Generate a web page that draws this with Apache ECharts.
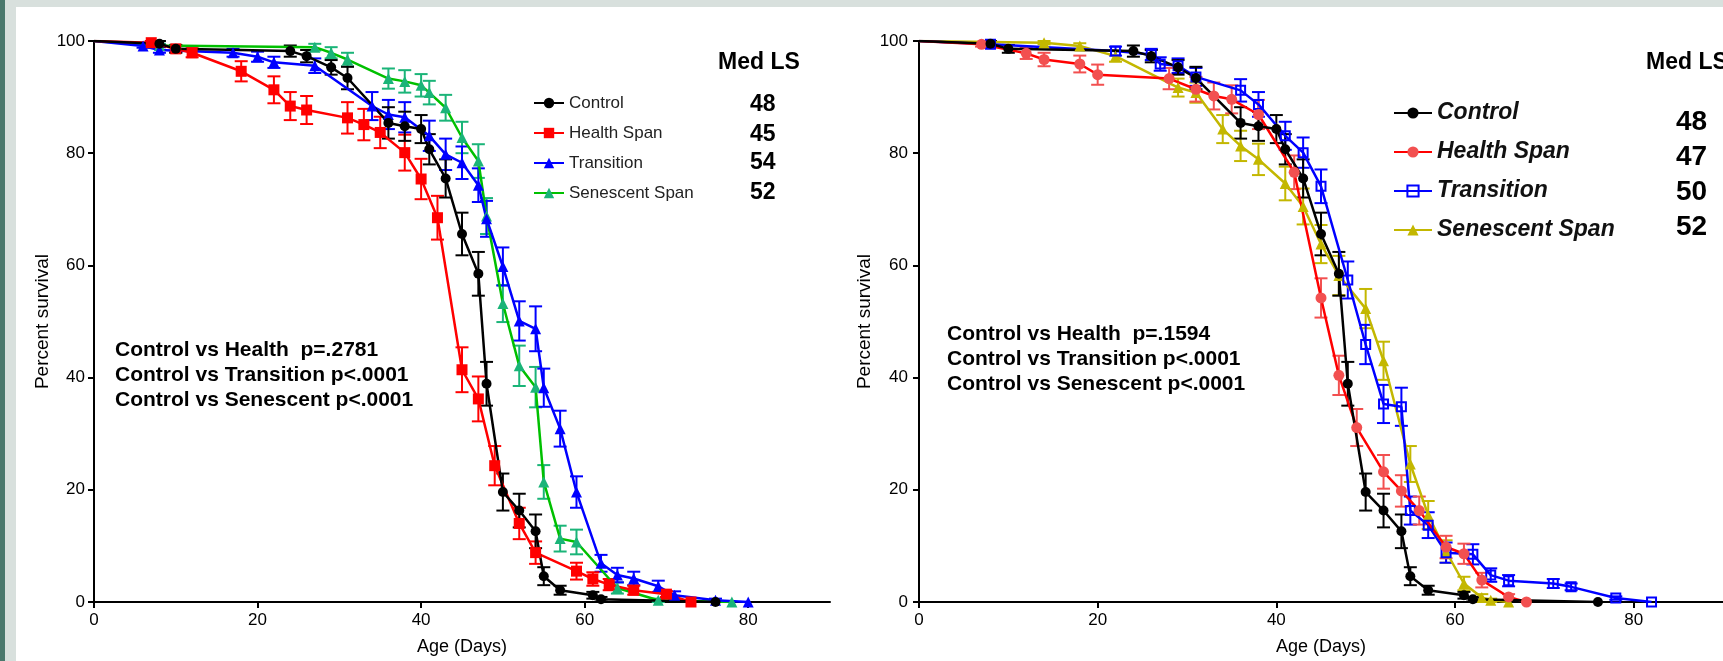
<!DOCTYPE html>
<html><head><meta charset="utf-8">
<script src="https://cdn.jsdelivr.net/npm/echarts@6/dist/echarts.min.js"></script>
<style>
html,body{margin:0;padding:0;width:1723px;height:661px;overflow:hidden;background:#fff;}
#tealbar{position:absolute;left:0;top:0;width:5px;height:661px;background:#4a786c;}
#greyside{position:absolute;left:5px;top:0;width:11px;height:661px;background:#d8e0dd;}
#greytop{position:absolute;left:5px;top:0;width:1718px;height:7px;background:#d8e0dd;}
#chart{position:absolute;left:0;top:0;width:1723px;height:661px;}
</style></head><body>
<div id="tealbar"></div><div id="greyside"></div><div id="greytop"></div>
<div id="chart"></div>
<script>
// ---------- DATA ----------
const xTicks = [0, 20, 40, 60, 80];
const seriesNames = ['Control', 'Health Span', 'Transition', 'Senescent Span'];
const medLSLeft = ['48', '45', '54', '52'];
const medLSRight = ['48', '47', '50', '52'];
const statsLeft = ['Control vs Health  p=.2781', 'Control vs Transition p<.0001', 'Control vs Senescent p<.0001'];
const statsRight = ['Control vs Health  p=.1594', 'Control vs Transition p<.0001', 'Control vs Senescent p<.0001'];

// Control (same cohort in both panels)
const controlDays = [0, 8, 10, 24, 26, 29, 31, 36, 38, 40, 41, 43, 45, 47, 48, 50, 52, 54, 55, 57, 61, 62, 76];
const controlPct  = [100, 99.5, 98.6, 98.2, 97.3, 95.3, 93.4, 85.4, 84.8, 84.3, 80.7, 75.5, 65.6, 58.5, 38.9, 19.6, 16.3, 12.6, 4.6, 2.1, 1.2, 0.5, 0];
const controlErr  = [0, 0.5, 0.7, 1.0, 1.1, 1.3, 2.0, 2.8, 2.6, 2.5, 2.7, 3.4, 3.8, 3.9, 3.9, 3.3, 3.0, 3.0, 1.6, 0.8, 0.6, 0.4, 0];

// Left panel
const healthA_Days = [0, 7, 10, 12, 18, 22, 24, 26, 31, 33, 35, 38, 40, 42, 45, 47, 49, 52, 54, 59, 61, 63, 66, 70, 73];
const healthA_Pct  = [100, 99.7, 98.6, 97.9, 94.6, 91.3, 88.4, 87.7, 86.3, 85.1, 83.7, 80.1, 75.4, 68.5, 41.4, 36.2, 24.3, 14.0, 8.8, 5.5, 4.1, 3.1, 2.1, 1.4, 0];
const healthA_Err  = [0, 0.3, 0.6, 0.8, 1.8, 2.4, 2.5, 2.5, 2.8, 2.8, 2.8, 3.2, 3.6, 3.9, 4.0, 4.0, 3.5, 2.8, 2.0, 1.5, 1.2, 1.0, 0.8, 0.5, 0];

const transA_Days = [0, 6, 8, 17, 20, 22, 27, 34, 36, 38, 41, 43, 45, 47, 48, 50, 52, 54, 55, 57, 59, 62, 64, 66, 69, 71, 76, 80];
const transA_Pct  = [100, 99.1, 98.4, 97.9, 97.2, 96.2, 95.6, 88.4, 86.9, 86.4, 83.1, 79.8, 78.3, 74.3, 68.3, 59.8, 50.1, 48.7, 38.2, 30.9, 19.6, 6.9, 4.8, 4.2, 2.8, 1.2, 0.3, 0];
const transA_Err  = [0, 0.3, 0.5, 0.7, 0.9, 1.0, 1.3, 2.5, 2.6, 2.7, 2.7, 2.8, 2.9, 3.0, 3.2, 3.4, 3.5, 4.0, 3.4, 3.2, 2.8, 1.5, 1.3, 1.2, 1.0, 0.7, 0.3, 0];

const senA_Days = [0, 8, 27, 29, 31, 36, 38, 40, 41, 43, 45, 47, 48, 50, 52, 54, 55, 57, 59, 64, 69, 78];
const senA_Pct  = [100, 99.2, 98.9, 97.9, 96.7, 93.3, 92.8, 92.1, 90.8, 88.1, 82.8, 78.6, 68.8, 53.2, 42.1, 38.3, 21.4, 11.3, 10.7, 2.5, 0.3, 0];
const senA_Err  = [0, 0.3, 0.6, 1.0, 1.2, 1.8, 2.0, 2.0, 2.1, 2.3, 2.8, 3.0, 3.2, 3.3, 3.6, 3.6, 3.0, 2.3, 2.2, 1.0, 0.3, 0];

// Right panel
const healthB_Days = [0, 7, 12, 14, 18, 20, 28, 31, 33, 35, 38, 42, 45, 47, 49, 52, 54, 56, 59, 61, 63, 66, 68];
const healthB_Pct  = [100, 99.4, 97.8, 96.7, 95.9, 94.0, 93.3, 91.4, 90.2, 89.6, 86.9, 76.6, 54.2, 40.4, 31.1, 23.2, 19.8, 16.3, 9.8, 8.6, 3.9, 0.9, 0];
const healthB_Err  = [0, 0.4, 1.0, 1.2, 1.5, 1.8, 1.9, 2.2, 2.4, 2.5, 2.6, 3.0, 3.5, 3.5, 3.3, 3.0, 2.8, 2.5, 2.0, 1.8, 1.3, 0.5, 0];

const transB_Days = [0, 8, 22, 26, 27, 29, 31, 36, 38, 41, 43, 45, 48, 50, 52, 54, 55, 57, 59, 62, 64, 66, 71, 73, 78, 82];
const transB_Pct  = [100, 99.4, 98.2, 97.6, 95.9, 95.6, 93.6, 91.2, 88.7, 83.1, 80.1, 74.1, 57.4, 45.9, 35.3, 34.8, 16.3, 13.7, 8.8, 8.5, 4.8, 3.8, 3.3, 2.7, 0.7, 0];
const transB_Err  = [0, 0.4, 0.8, 1.0, 1.2, 1.3, 1.6, 2.0, 2.2, 2.5, 2.7, 3.0, 3.3, 3.5, 3.4, 3.4, 2.5, 2.3, 1.8, 1.8, 1.2, 1.0, 0.8, 0.6, 0.3, 0];

const senB_Days = [0, 14, 18, 22, 29, 31, 34, 36, 38, 41, 43, 45, 47, 50, 52, 55, 57, 59, 61, 63, 64, 66];
const senB_Pct  = [100, 99.7, 99.1, 97.3, 91.7, 90.8, 84.3, 81.3, 78.9, 74.6, 70.5, 63.8, 58.2, 52.3, 43.0, 24.6, 15.5, 9.0, 3.3, 0.8, 0.3, 0];
const senB_Err  = [0, 0.3, 0.5, 1.0, 1.6, 1.8, 2.5, 2.7, 2.8, 3.0, 3.2, 3.4, 3.5, 3.5, 3.4, 3.2, 2.5, 2.0, 1.2, 0.6, 0.3, 0];

// ---------- CHART ----------
const FONT = '"Liberation Sans", Arial, sans-serif';
const chart = echarts.init(document.getElementById('chart'), null, {renderer: 'canvas'});

function lineData(days, pct) {
  return days.map((d, i) => d === 0 ? {value: [d, pct[i]], symbol: 'none'} : [d, pct[i]]);
}
function errSeries(gi, days, pct, err, color) {
  const data = days.map((d, i) => [d, pct[i], err[i]]).filter(r => r[2] > 0);
  return {
    type: 'custom', xAxisIndex: gi, yAxisIndex: gi, silent: true, animation: false,
    data: data, encode: {x: 0, y: 1},
    renderItem: function (params, api) {
      const x = api.value(0), y = api.value(1), e = api.value(2);
      const t = api.coord([x, y + e]), b = api.coord([x, y - e]);
      const c = 6.5, st = {stroke: color, lineWidth: 2};
      return {type: 'group', children: [
        {type: 'line', shape: {x1: t[0], y1: t[1], x2: b[0], y2: b[1]}, style: st},
        {type: 'line', shape: {x1: t[0] - c, y1: t[1], x2: t[0] + c, y2: t[1]}, style: st},
        {type: 'line', shape: {x1: b[0] - c, y1: b[1], x2: b[0] + c, y2: b[1]}, style: st}
      ]};
    }
  };
}
function lineSeries(name, gi, days, pct, lineColor, itemStyle, symbol, size) {
  return {
    type: 'line', name: name, xAxisIndex: gi, yAxisIndex: gi,
    data: lineData(days, pct), symbol: symbol, symbolSize: size, animation: false,
    lineStyle: {color: lineColor, width: 2.5}, itemStyle: itemStyle
  };
}

function xAxis(gi, fs, nfs) {
  return {
    type: 'value', gridIndex: gi, min: 0, max: 90, interval: 20,
    axisLine: {show: true, onZero: false, lineStyle: {color: '#000', width: 2}},
    axisTick: {show: true, length: 6, customValues: xTicks, lineStyle: {color: '#000', width: 2}},
    axisLabel: {customValues: xTicks, margin: 10, fontSize: fs, color: '#000', fontFamily: FONT},
    splitLine: {show: false},
    name: 'Age (Days)', nameLocation: 'middle', nameGap: 36,
    nameTextStyle: {fontSize: nfs, color: '#000', fontFamily: FONT}
  };
}
function yAxis(gi, fs, nfs, gap, margin) {
  return {
    type: 'value', gridIndex: gi, min: 0, max: 100, interval: 20,
    axisLine: {show: true, onZero: false, lineStyle: {color: '#000', width: 2}},
    axisTick: {show: true, length: 6, lineStyle: {color: '#000', width: 2}},
    axisLabel: {margin: margin, fontSize: fs, color: '#000', fontFamily: FONT},
    splitLine: {show: false},
    name: 'Percent survival', nameLocation: 'middle', nameGap: gap,
    nameTextStyle: {fontSize: nfs, color: '#000', fontFamily: FONT}
  };
}

const RN = seriesNames.map(n => 'B: ' + n);

const series = [
  // left panel
  errSeries(0, senA_Days, senA_Pct, senA_Err, '#1ab478'),
  lineSeries(seriesNames[3], 0, senA_Days, senA_Pct, '#00c000', {color: '#1ab478'}, 'triangle', 11),
  errSeries(0, transA_Days, transA_Pct, transA_Err, '#0000ff'),
  lineSeries(seriesNames[2], 0, transA_Days, transA_Pct, '#0000ff', {color: '#0000ff'}, 'triangle', 11),
  errSeries(0, healthA_Days, healthA_Pct, healthA_Err, '#ff0000'),
  lineSeries(seriesNames[1], 0, healthA_Days, healthA_Pct, '#ff0000', {color: '#ff0000'}, 'rect', 11),
  errSeries(0, controlDays, controlPct, controlErr, '#000000'),
  lineSeries(seriesNames[0], 0, controlDays, controlPct, '#000000', {color: '#000000'}, 'circle', 10),
  // right panel
  errSeries(1, senB_Days, senB_Pct, senB_Err, '#c3b700'),
  lineSeries(RN[3], 1, senB_Days, senB_Pct, '#c3b700', {color: '#c3b700'}, 'triangle', 11),
  errSeries(1, transB_Days, transB_Pct, transB_Err, '#0000ff'),
  lineSeries(RN[2], 1, transB_Days, transB_Pct, '#0000ff', {color: 'rgba(0,0,0,0)', borderColor: '#0000ff', borderWidth: 2}, 'rect', 9),
  errSeries(1, healthB_Days, healthB_Pct, healthB_Err, '#f25050'),
  lineSeries(RN[1], 1, healthB_Days, healthB_Pct, '#ff0000', {color: '#f25050'}, 'circle', 11),
  errSeries(1, controlDays, controlPct, controlErr, '#000000'),
  lineSeries(RN[0], 1, controlDays, controlPct, '#000000', {color: '#000000'}, 'circle', 10)
];

function txt(x, y, s, size, extra) {
  return {type: 'text', x: x, y: y, silent: true,
    style: Object.assign({text: s, fontSize: size, fontWeight: 'bold', fontFamily: FONT, fill: '#000',
      align: 'left', verticalAlign: 'middle'}, extra || {})};
}
const graphic = [];
graphic.push(txt(718, 63, 'Med LS', 23));
[105, 135, 163, 193].forEach((y, i) => graphic.push(txt(750, y, medLSLeft[i], 23)));
graphic.push(txt(1646, 63, 'Med LS', 23));
[122, 157, 192, 227].forEach((y, i) => graphic.push(txt(1676, y, medLSRight[i], 28)));
[350, 375.5, 400.5].forEach((y, i) => graphic.push(txt(115, y, statsLeft[i], 21)));
[334, 359, 384].forEach((y, i) => graphic.push(txt(947, y, statsRight[i], 21)));

chart.setOption({
  animation: false,
  backgroundColor: 'transparent',
  grid: [
    {left: 94, top: 41, width: 736, height: 562.5},
    {left: 919, top: 41, width: 819, height: 562.5}
  ],
  xAxis: [xAxis(0, 17, 18), xAxis(1, 17, 18)],
  yAxis: [yAxis(0, 17, 19, 38, 9), yAxis(1, 17, 19, 45, 11)],
  legend: [
    {left: 533, top: 93, orient: 'vertical', itemWidth: 30, itemHeight: 13, itemGap: 10, padding: 0,
     selectedMode: false, data: seriesNames,
     textStyle: {fontFamily: FONT, fontSize: 17, color: '#222', lineHeight: 20}},
    {left: 1393, top: 100, orient: 'vertical', itemWidth: 38, itemHeight: 14, itemGap: 13, padding: 0,
     selectedMode: false, data: RN, formatter: n => n.replace(/^B: /, ''),
     textStyle: {fontFamily: FONT, fontSize: 23, fontWeight: 'bold', fontStyle: 'italic', color: '#111', lineHeight: 26}}
  ],
  graphic: graphic,
  series: series
});
</script>
</body></html>
